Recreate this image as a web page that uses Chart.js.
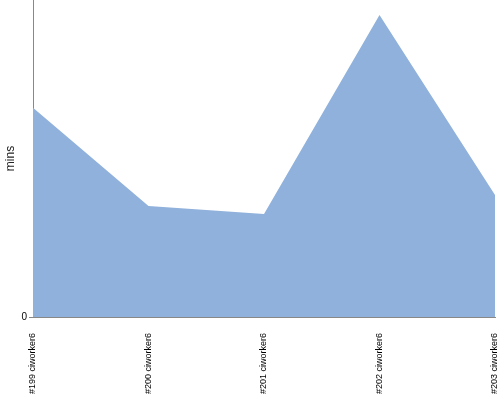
<!DOCTYPE html>
<html>
<head>
<meta charset="utf-8">
<script src="https://cdn.jsdelivr.net/npm/chart.js@4/dist/chart.umd.min.js"></script>
<style>
  html, body { margin: 0; padding: 0; background: #fff; }
  #wrap { width: 500px; height: 400px; }
</style>
</head>
<body>
<div id="wrap"><canvas id="chart"></canvas></div>
<script>
const builds = ['#199 ciworker6', '#200 ciworker6', '#201 ciworker6', '#202 ciworker6', '#203 ciworker6'];
const minutes = [66, 35, 32.5, 95.3, 38.5];
const yMax = 100;

const ctx = document.getElementById('chart').getContext('2d');
new Chart(ctx, {
  type: 'line',
  data: {
    labels: builds,
    datasets: [{
      label: 'mins',
      data: minutes,
      fill: 'origin',
      backgroundColor: '#8fb1db',
      borderWidth: 0,
      pointRadius: 0,
      tension: 0
    }]
  },
  options: {
    responsive: true,
    maintainAspectRatio: false,
    animation: false,
    layout: { padding: { top: 0, right: 5, left: 0, bottom: 0 } },
    plugins: { legend: { display: false }, tooltip: { enabled: false } },
    scales: {
      x: {
        offset: false,
        grid: { display: false },
        border: { display: true, color: '#888', width: 1 },
        ticks: {
          color: '#000',
          font: { family: 'Liberation Sans', size: 9 },
          maxRotation: 90,
          minRotation: 90,
          autoSkip: false,
          padding: 8
        },
        afterFit: (s) => { s.height = 83; s.paddingRight = 0; s.paddingLeft = 0; }
      },
      y: {
        min: 0,
        max: yMax,
        grid: {
          drawOnChartArea: false,
          tickLength: 4,
          color: (c) => c.tick && c.tick.value === 0 ? '#888' : 'rgba(0,0,0,0)'
        },
        border: { display: true, color: '#888', width: 1 },
        ticks: {
          stepSize: yMax,
          color: '#000',
          font: { family: 'Liberation Sans', size: 10 },
          padding: 2,
          callback: (v) => v === 0 ? '0' : ''
        },
        title: {
          display: true,
          text: 'mins',
          color: '#222',
          font: { family: 'Liberation Sans', size: 12 },
          padding: { top: 3, bottom: 0 }
        },
        afterFit: (s) => { s.width = 33; s.paddingTop = 0; s.paddingBottom = 0; }
      }
    }
  }
});
</script>
</body>
</html>
